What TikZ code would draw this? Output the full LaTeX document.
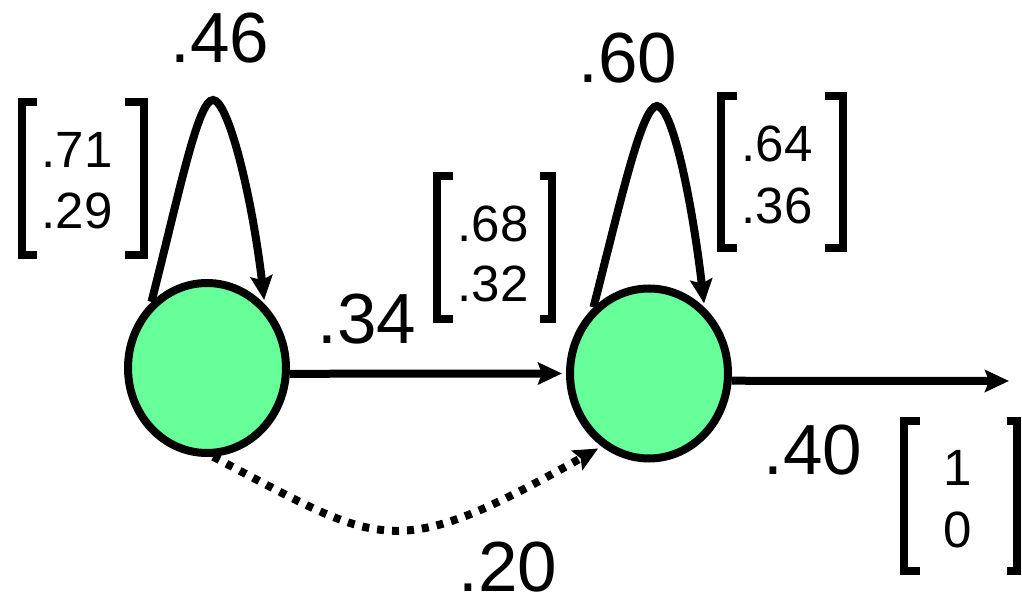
\documentclass[tikz,border=0pt]{standalone}
\usepackage{fontspec}
\setmainfont{Liberation Sans}
\usetikzlibrary{arrows.meta,shapes.geometric}
\definecolor{nodegreen}{RGB}{102,255,153}
\begin{document}
\begin{tikzpicture}[x=1pt,y=-1pt,
  state/.style={ellipse, draw=black, line width=8pt, fill=nodegreen,
    minimum width=158pt, minimum height=170pt, inner sep=0pt},
  conn/.style={line width=8pt, -{Stealth[length=24pt,width=22pt,inset=4pt]}},
  big/.style={font=\fontsize{71}{80}\selectfont, anchor=base, inner sep=0pt},
  small/.style={font=\fontsize{51}{60}\selectfont, anchor=base, inner sep=0pt},
  brk/.style={line width=8pt, line cap=butt, line join=miter},
]
\useasboundingbox (0,0) rectangle (1022,596);

% states
\node[state] (n1) at (207,368) {};
\node[state] (n2) at (649,373.5) {};

% helper coordinates
\coordinate (p1) at (213,100);
\coordinate (p2) at (657,106);
\coordinate (out) at (1009,381);

% connectors
\draw[conn, shorten >=4pt] (n1.-4) -- (n2.west);
\draw[conn] (n2.-5) -- (out);
\draw[conn, shorten >=4pt] (n1.130) .. controls +(28,-110) and +(-15,0) .. (p1)
  .. controls +(15,0) and +(-13,-110) .. (n1.48);
\draw[conn, shorten >=4pt] (n2.130) .. controls +(28,-110) and +(-15,0) .. (p2)
  .. controls +(15,0) and +(-13,-110) .. (n2.50);
\draw[conn, dash pattern=on 7pt off 8pt, shorten >=4pt] (n1.-86)
  .. controls +(170,89) and +(-210,118) .. (n2.-123);

% brackets
\draw[brk] (37,102.5) -- (22,102.5) -- (22,254.5) -- (37,254.5);
\draw[brk] (125,102.5) -- (144,102.5) -- (144,254.5) -- (125,254.5);
\draw[brk] (453,176) -- (437,176) -- (437,319) -- (453,319);
\draw[brk] (540,176) -- (552,176) -- (552,319) -- (540,319);
\draw[brk] (737,96) -- (721,96) -- (721,248) -- (737,248);
\draw[brk] (825,96) -- (843,96) -- (843,248) -- (825,248);
\draw[brk] (920,421) -- (904,421) -- (904,571) -- (920,571);
\draw[brk] (1007,421) -- (1017,421) -- (1017,571) -- (1007,571);

% vector entries
\node[small] (a1) at (77,168) {.71};
\node[small] (a2) at (77,228) {.29};
\node[small] (b1) at (493,241) {.68};
\node[small] (b2) at (493,301) {.32};
\node[small] (c1) at (777,162) {.64};
\node[small] (c2) at (777,223) {.36};
\node[small] (d1) at (958,485) {1};
\node[small] (d2) at (958,547) {0};

% probabilities
\node[big] (l46) at (220,63) {.46};
\node[big] (l60) at (628,83) {.60};
\node[big] (l34) at (367,343) {.34};
\node[big] (l40) at (813,474) {.40};
\node[big] (l20) at (508,591) {.20};
\end{tikzpicture}
\end{document}
